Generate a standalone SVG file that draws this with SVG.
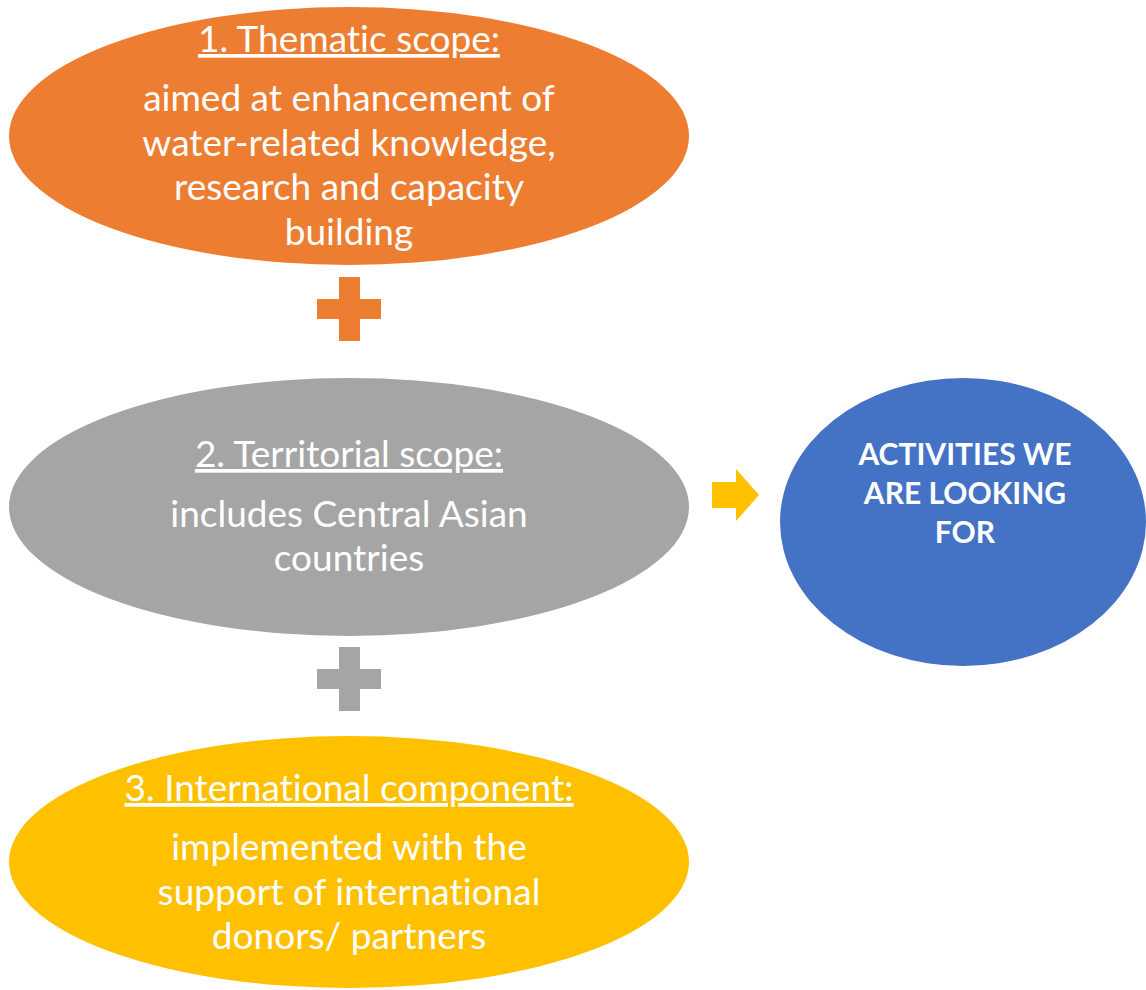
<svg xmlns="http://www.w3.org/2000/svg" width="1146" height="990" viewBox="0 0 1146 990">
<style>
.t{font-family:Lato,"Open Sans","Liberation Sans",sans-serif;fill:#fff;text-anchor:middle;font-size:37px;font-variant-ligatures:none}
.h{text-decoration:underline}
.b{font-family:Lato,"Open Sans","Liberation Sans",sans-serif;fill:#fff;text-anchor:middle;font-size:30px;font-weight:bold}
</style>
<rect width="1146" height="990" fill="#fff"/>
<g id="connectors">
<path d="M339 277h21v22h21v20h-21v22h-21v-22h-22v-20h22z" fill="#ED7D31"/>
<path d="M339 647h21v22h21v20h-21v22h-21v-22h-22v-20h22z" fill="#A5A5A5"/>
<path d="M712 482h24v-13l23 26l-23 26v-13h-24z" fill="#FFC000"/>
</g>
<g id="node-thematic">
<ellipse cx="349" cy="136" rx="340" ry="129" fill="#ED7D31"/>
<text class="t h" x="349" y="52">1. Thematic scope:</text>
<text class="t" x="349" y="111">aimed at enhancement of</text>
<text class="t" x="349" y="156">water-related knowledge,</text>
<text class="t" x="349" y="200">research and capacity</text>
<text class="t" x="349" y="245">building</text>
</g>
<g id="node-territorial">
<ellipse cx="349" cy="507" rx="340" ry="129" fill="#A5A5A5"/>
<text class="t h" x="349" y="467">2. Territorial scope:</text>
<text class="t" x="349" y="527">includes Central Asian</text>
<text class="t" x="349" y="571">countries</text>
</g>
<g id="node-international">
<ellipse cx="349" cy="862" rx="340" ry="126" fill="#FFC000"/>
<text class="t h" x="349" y="801">3. International component:</text>
<text class="t" x="349" y="860">implemented with the</text>
<text class="t" x="349" y="905">support of international</text>
<text class="t" x="349" y="949">donors/ partners</text>
</g>
<g id="node-activities">
<ellipse cx="963" cy="522" rx="183" ry="144" fill="#4472C4"/>
<text class="b" x="965" y="465">ACTIVITIES WE</text>
<text class="b" x="965" y="504">ARE LOOKING</text>
<text class="b" x="965" y="543">FOR</text>
</g>
</svg>
